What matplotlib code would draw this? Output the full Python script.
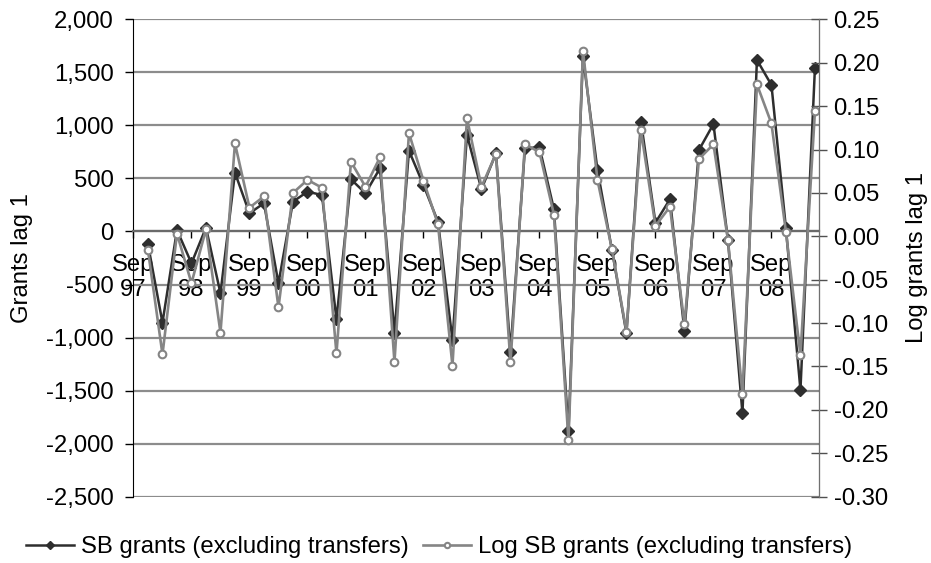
import matplotlib.pyplot as plt
import numpy as np

plt.rcParams["font.family"] = ["Liberation Sans", "DejaVu Sans"]

# quarterly observations, Sep 97 .. Jun 09 (first quarter has no lagged value)
year_labels = ["97", "98", "99", "00", "01", "02", "03", "04", "05", "06", "07", "08"]

grants = [np.nan,
          -121, -860, 14, -300, 36, -583, 554, 172, 266, -488, 281, 375,
          344, -828, 492, 360, 596, -954, 762, 438, 92, -1023, 910, 398,
          737, -1133, 784, 794, 209, -1880, 1654, 580, -174, -960, 1035, 83,
          304, -938, 768, 1013, -80, -1714, 1617, 1381, 30, -1494, 1544]

log_grants = [np.nan,
              -0.016, -0.136, 0.003, -0.054, 0.008, -0.111, 0.107, 0.033, 0.046, -0.082, 0.050, 0.065,
              0.056, -0.135, 0.086, 0.057, 0.091, -0.145, 0.119, 0.064, 0.014, -0.149, 0.136, 0.057,
              0.095, -0.145, 0.106, 0.097, 0.025, -0.235, 0.214, 0.065, -0.015, -0.110, 0.122, 0.012,
              0.034, -0.101, 0.089, 0.106, -0.004, -0.182, 0.175, 0.130, 0.005, -0.137, 0.144]

left_ticks = list(range(-2500, 2001, 500))
right_ticks = [round(-0.30 + 0.05 * i, 2) + 0.0 for i in range(12)]

x = np.arange(len(grants))

fig = plt.figure(figsize=(9.31, 5.63), dpi=100)
ax = fig.add_subplot(111)
fig.subplots_adjust(left=0.1429, right=0.8797, top=0.9657, bottom=0.1178)
ax2 = ax.twinx()

FS = 17.2
dark = "#2e2e2e"
grey = "#858585"

(l1,) = ax.plot(x, grants, color=dark, lw=1.8, marker="D", ms=6,
                mfc=dark, mec=dark, label="SB grants (excluding transfers)")
(l2,) = ax2.plot(x, log_grants, color=grey, lw=1.9, marker="o", ms=5.5,
                 mfc="white", mec=grey, mew=1.5, label="Log SB grants (excluding transfers)")

# left axis
ax.set_ylim(-2500, 2000)
ax.set_yticks(left_ticks)
ax.set_yticklabels([f"{v:,}" for v in left_ticks])
ax.yaxis.grid(True, color="#8c8c8c", lw=1.6)
ax.set_axisbelow(True)
ax.tick_params(axis="y", direction="out", length=6, width=1, pad=8, labelsize=FS)
ax.set_ylabel("Grants lag 1", fontsize=FS, labelpad=9)

# category axis at zero
ax.set_xlim(-0.03, 47.28)
ax.set_xticks(np.arange(0, 48, 4))
ax.set_xticklabels(["Sep\n" + y for y in year_labels], linespacing=1.4)
ax.spines["bottom"].set_position(("data", 0))
ax.spines["bottom"].set_color("#6a6a6a")
ax.spines["bottom"].set_linewidth(1.6)
ax.tick_params(axis="x", direction="out", length=5, width=1, pad=11, labelsize=FS)
ax.spines["top"].set_visible(False)
ax.spines["left"].set_color("black")

# right axis
ax2.set_ylim(-0.30, 0.25)
ax2.set_yticks(right_ticks)
ax2.set_yticklabels([f"{v:.2f}" for v in right_ticks])
ax2.tick_params(axis="y", direction="inout", length=11, width=1, pad=5,
                labelsize=FS, color="#505050")
ax2.set_ylabel("Log grants lag 1", fontsize=FS, labelpad=13)
for s in ["top", "bottom", "left"]:
    ax2.spines[s].set_visible(False)
ax2.spines["right"].set_color("#707070")

fig.legend([l1, l2], [l1.get_label(), l2.get_label()], loc="center",
           bbox_to_anchor=(439 / 931, 1 - 547 / 563), ncol=2, frameon=False,
           fontsize=FS, handlelength=2.0, handletextpad=0.3, columnspacing=0.6,
           markerscale=0.7)

fig.savefig("out.png", dpi=100)
